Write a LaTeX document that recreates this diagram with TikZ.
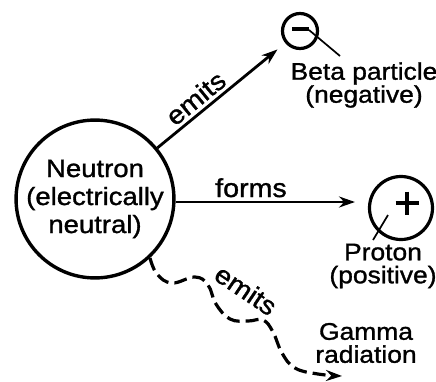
\documentclass[tikz,border=0pt]{standalone}
\usepackage{fontspec}
\setmainfont{Liberation Sans}[FakeStretch=1.1, FakeBold=1.2]
\usepackage{tikz}
\usetikzlibrary{arrows.meta, positioning, calc}

\begin{document}
\begin{tikzpicture}[x=1pt, y=-1pt, >={Stealth[length=16pt, width=11pt]},
  particle/.style={draw, circle, line width=3.2pt, inner sep=0pt},
  lbl/.style={align=center, font=\fontsize{24}{23}\selectfont},
  verb/.style={font=\fontsize{26}{26}\selectfont},
  arr/.style={->, line width=2.8pt},
  leader/.style={line width=1.7pt},
  sign/.style={line width=4pt}]
  \useasboundingbox (0,0) rectangle (436,381);

  % Neutron
  \node[particle, line width=3.4pt, minimum size=153pt, align=center,
        font=\fontsize{25}{28}\selectfont] (neutron) at (95,199)
    {Neutron\\(electrically\\neutral)};

  % Beta particle with its minus sign and leader
  \node[particle, minimum size=35pt] (beta) at (300,31) {};
  \draw[sign] ($(beta)+(-8,-2)$) -- ($(beta)+(9,-2)$);
  \node[lbl] (betalbl) at (364,85) {Beta particle\\(negative)};
  \coordinate (betalead) at ($(beta)+(40,25)$);
  \draw[leader] ($(beta)+(9,-1)$) -- (betalead);

  % Proton with its plus sign and leader
  \node[particle, minimum size=63pt] (proton) at (401,208) {};
  \draw[sign] ($(proton)+(-5.5,-5)$) -- ($(proton)+(17.5,-5)$);
  \draw[sign] ($(proton)+(6,-16.5)$) -- ($(proton)+(6,6.5)$);
  \node[lbl] (protonlbl) at (383,266) {Proton\\(positive)};
  \coordinate (protonlead) at ($(proton)+(-28,32)$);
  \draw[leader] ($(proton)+(-13,7)$) -- (protonlead);

  % Gamma radiation
  \node[lbl] (gammalbl) at (366,343) {Gamma\\radiation};

  % Neutron emits a beta particle
  \draw[arr, shorten >=10pt] (neutron) --
    node[verb, above, sloped, pos=0.37] (emitsbeta) {emits} (beta);

  % Neutron forms a proton
  \coordinate (formstip) at (355,202);
  \draw[arr] (neutron.east |- formstip) --
    node[verb, above, pos=0.42] (formslbl) {forms} (formstip);

  % Neutron emits gamma radiation (wavy)
  \coordinate (gammatip) at (342,376);
  \draw[arr, line width=3.2pt, dash pattern=on 13pt off 6pt]
    plot[smooth, tension=0.7] coordinates {(neutron.-47) (157,274) (172,283)
      (195,277) (208,285) (216,304) (230,319) (248,321) (263,320) (273,332)
      (282,353) (295,368) (318,374) (gammatip)};
  \node[verb, rotate=-34] (emitsgamma) at (246,290) {emits};
\end{tikzpicture}
\end{document}
